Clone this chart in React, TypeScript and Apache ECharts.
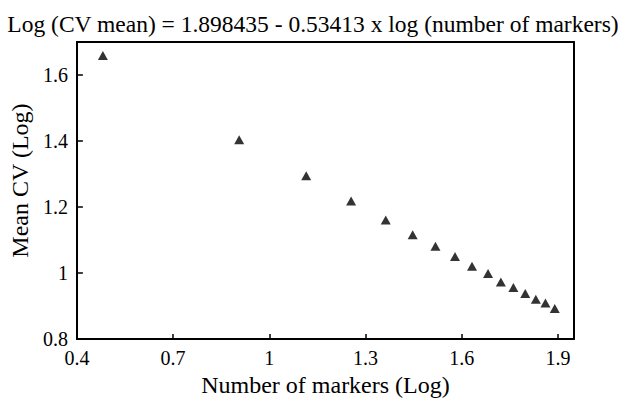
import React, { useEffect, useRef } from "react";
import * as echarts from "echarts";

const titleText = "Log (CV mean) = 1.898435 - 0.53413 x log (number of markers)";
const xName = "Number of markers (Log)";
const yName = "Mean CV (Log)";
const logMarkers = [0.481, 0.906, 1.115, 1.255, 1.363, 1.447, 1.518, 1.579, 1.632, 1.682, 1.722, 1.761, 1.798, 1.831, 1.861, 1.890];
const meanCV = [1.659, 1.404, 1.295, 1.218, 1.161, 1.116, 1.081, 1.050, 1.021, 0.999, 0.973, 0.956, 0.938, 0.921, 0.909, 0.893];

const FONT = "'Liberation Serif', 'DejaVu Serif', serif";

export default function App() {
  const ref = useRef<HTMLDivElement>(null);
  useEffect(() => {
    if (!ref.current) return;
    const chart = echarts.init(ref.current, undefined, { renderer: "svg" });
    const data = logMarkers.map((x, i) => [x, meanCV[i]]);
    const axisCommon = {
      axisLine: { show: true, lineStyle: { color: "#000", width: 2 } },
      splitLine: { show: false },
    };
    chart.setOption({
      animation: false,
      backgroundColor: "#fff",
      title: {
        text: titleText,
        left: "center",
        top: 7,
        textStyle: { fontFamily: FONT, fontSize: 23.5, fontWeight: "normal", color: "#000" },
      },
      grid: { left: 72, right: 52, top: 42, bottom: 58, show: false },
      xAxis: [
        {
          type: "value",
          min: 0.4,
          max: 1.95,
          interval: 0.3,
          ...axisCommon,
          axisTick: { show: true, inside: true, length: 5, lineStyle: { color: "#000", width: 1.5 } },
          axisLabel: {
            fontFamily: FONT,
            fontSize: 20,
            color: "#000",
            margin: 9,
            showMaxLabel: false,
            formatter: (v: number) => String(parseFloat(v.toFixed(2))),
          },
          name: xName,
          nameLocation: "middle",
          nameGap: 30,
          nameTextStyle: { fontFamily: FONT, fontSize: 24, color: "#000" },
        },
        {
          type: "value",
          position: "top",
          min: 0.4,
          max: 1.95,
          ...axisCommon,
          axisTick: { show: false },
          axisLabel: { show: false },
        },
      ],
      yAxis: [
        {
          type: "value",
          min: 0.8,
          max: 1.7,
          interval: 0.2,
          ...axisCommon,
          axisTick: { show: true, inside: true, length: 6, lineStyle: { color: "#000", width: 1.5 } },
          axisLabel: {
            fontFamily: FONT,
            fontSize: 20,
            color: "#000",
            margin: 9,
            showMaxLabel: false,
            formatter: (v: number) => String(parseFloat(v.toFixed(2))),
          },
          name: yName,
          nameLocation: "middle",
          nameGap: 39,
          nameTextStyle: { fontFamily: FONT, fontSize: 24, color: "#000", padding: [0, 0, 0, 20] },
        },
        {
          type: "value",
          position: "right",
          min: 0.8,
          max: 1.7,
          ...axisCommon,
          axisTick: { show: false },
          axisLabel: { show: false },
        },
      ],
      series: [
        {
          type: "scatter",
          data,
          symbol: "triangle",
          symbolSize: [10, 9],
          itemStyle: { color: "#000" },
        },
      ],
    });
    return () => chart.dispose();
  }, []);
  return (
    <div
      ref={ref}
      style={{ position: "fixed", left: 0, top: 0, width: 626, height: 402 }}
    />
  );
}
